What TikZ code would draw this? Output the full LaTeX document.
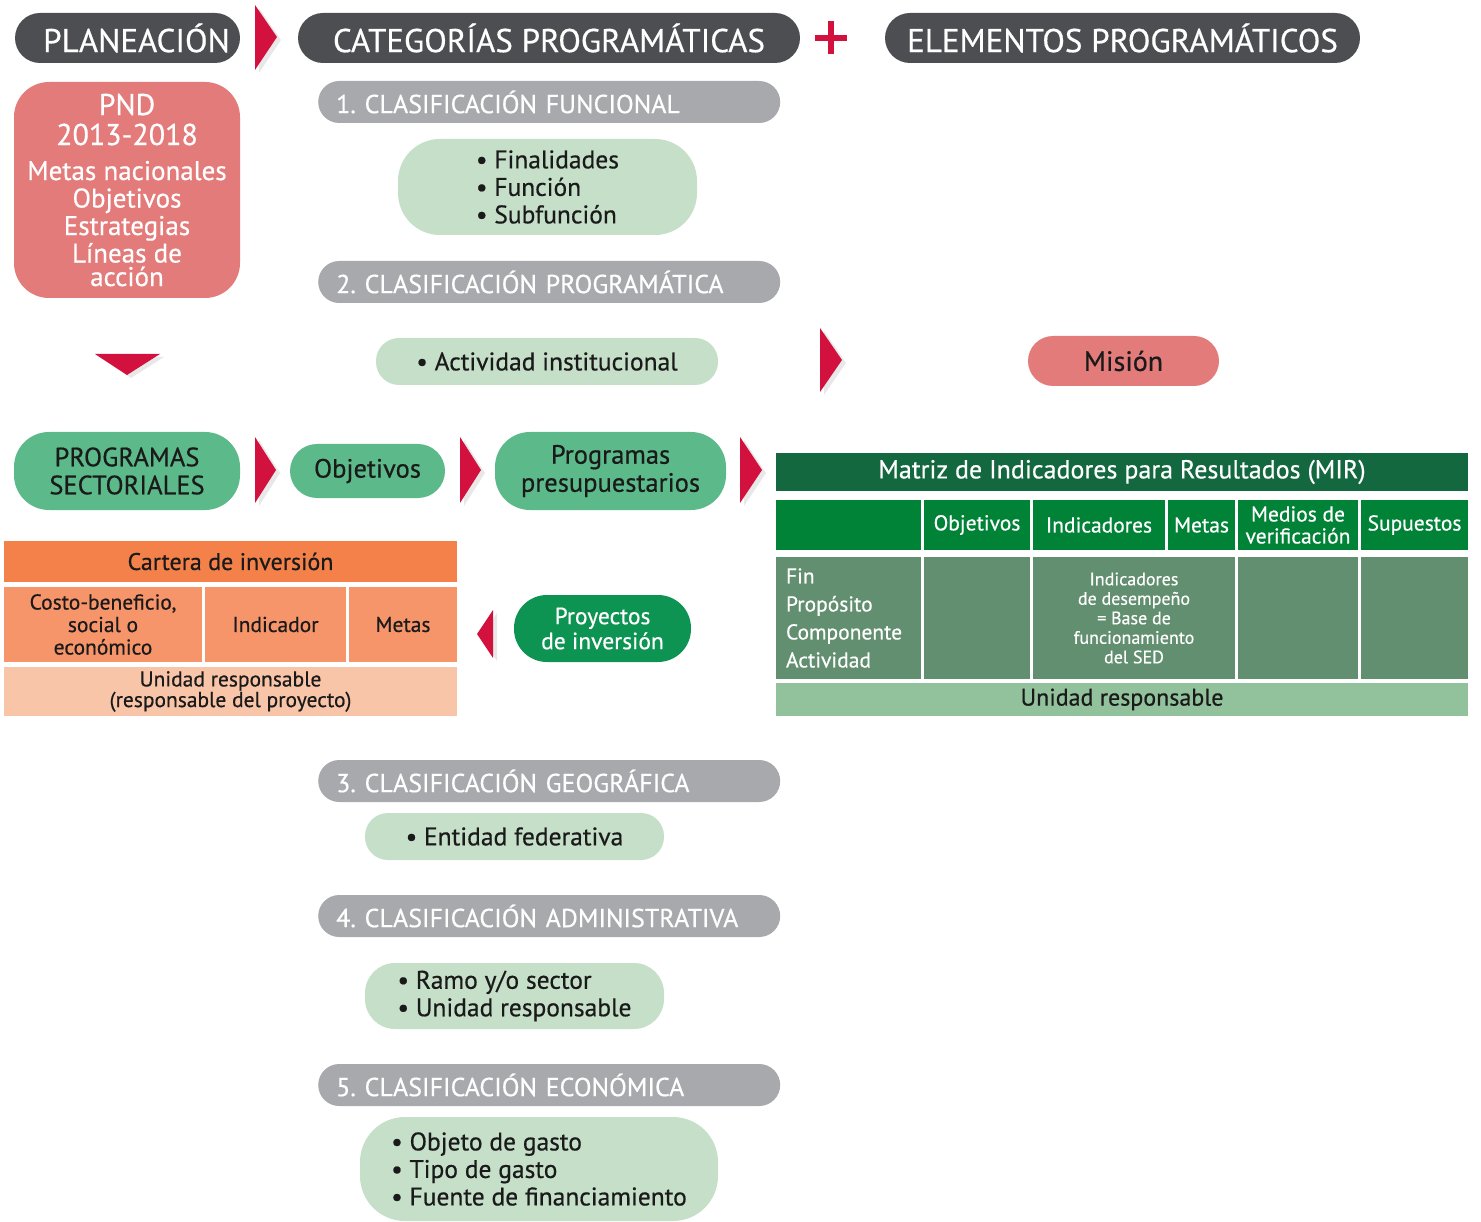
\documentclass[tikz,border=0pt]{standalone}
\usepackage{fontspec}
\setmainfont{PT Sans}[FakeBold=0.5]
\usetikzlibrary{shadows}

\definecolor{hdrgray}{HTML}{4D4E52}
\definecolor{clsgray}{HTML}{A7A9AC}
\definecolor{itemgreen}{HTML}{C5DFC8}
\definecolor{midgreen}{HTML}{5CB98A}
\definecolor{deepgreen}{HTML}{0E9452}
\definecolor{pinkred}{HTML}{E47B7B}
\definecolor{arrowred}{HTML}{D2113F}
\definecolor{mirtitle}{HTML}{13683F}
\definecolor{mirhead}{HTML}{008237}
\definecolor{mirbody}{HTML}{628F70}
\definecolor{mirfoot}{HTML}{92C29C}
\definecolor{cartitle}{HTML}{F38149}
\definecolor{carrow}{HTML}{F6946A}
\definecolor{carfoot}{HTML}{F9C5A8}
\definecolor{ink}{HTML}{1A1A1A}

\newcommand{\fs}[2]{\fontsize{#1}{#2}\selectfont}
\frenchspacing

\begin{document}
\begin{tikzpicture}[x=1pt,y=-1pt,
    tri/.style={fill=arrowred,drop shadow={shadow xshift=4pt,shadow yshift=-3pt,opacity=.18}},
    cell/.style={inner sep=0pt,align=center,text=ink}]

  \useasboundingbox (0,0) rectangle (1481,1222);

  % top headers
  \begin{scope}[every node/.style={fill=hdrgray,text=white,rounded corners=25pt,
      minimum height=50pt,inner sep=0pt,font=\fs{33}{35}}]
    \node[minimum width=225pt] (plan) at (127.5,38) {\hspace{18pt}PLANEACIÓN};
    \node[minimum width=502pt] (cat)  at (549,38)   {CATEGORÍAS PROGRAMÁTICAS};
    \node[minimum width=475pt] (elem) at (1122.5,38) {ELEMENTOS PROGRAMÁTICOS};
  \end{scope}
  \coordinate (plus) at (831,38);
  \draw[arrowred,line width=6pt] ([xshift=-16pt]plus) -- ([xshift=16pt]plus)
    ([yshift=-16.5pt]plus) -- ([yshift=16.5pt]plus);

  % classification bars
  \begin{scope}[every node/.style={fill=clsgray,text=white,rounded corners=21pt,
      minimum height=42pt,text width=426pt,inner xsep=18pt,inner ysep=0pt,
      align=left,anchor=west,font=\fs{26}{28}}]
    \node (c1) at (318,102)  {1. CLASIFICACIÓN FUNCIONAL};
    \node (c2) at (318,282)  {2. CLASIFICACIÓN PROGRAMÁTICA};
    \node (c3) at (318,781)  {3. CLASIFICACIÓN GEOGRÁFICA};
    \node (c4) at (318,916)  {4. CLASIFICACIÓN ADMINISTRATIVA};
    \node (c5) at (318,1085) {5. CLASIFICACIÓN ECONÓMICA};
  \end{scope}

  % items of each classification
  \begin{scope}[every node/.style={fill=itemgreen,text=ink,inner sep=0pt,
      align=left,font=\fs{25.5}{27.5}}]
    \node[minimum width=299pt,minimum height=96pt,rounded corners=42pt] (i1) at (547.5,187)
      {\textbullet\ Finalidades\\\textbullet\ Función\\\textbullet\ Subfunción};
    \node[minimum width=342pt,minimum height=47pt,rounded corners=23pt] (i2) at (547,361.5)
      {\textbullet\ Actividad institucional};
    \node[minimum width=299pt,minimum height=47pt,rounded corners=23pt] (i3) at (514.5,836.5)
      {\textbullet\ Entidad federativa};
    \node[minimum width=299pt,minimum height=66pt,rounded corners=30pt] (i4) at (514.5,996)
      {\textbullet\ Ramo y/o sector\\\textbullet\ Unidad responsable};
    \node[minimum width=358pt,minimum height=104pt,rounded corners=45pt] (i5) at (539,1169)
      {\textbullet\ Objeto de gasto\\\textbullet\ Tipo de gasto\\\textbullet\ Fuente de financiamiento};
  \end{scope}

  % planning side
  \node[fill=pinkred,text=white,rounded corners=35pt,minimum width=226pt,minimum height=216pt,
    inner sep=0pt,align=center,font=\fs{27}{27.5}] (pnd) at (127,190)
    {\fs{30}{27.5}PND\\[2.5pt]\fs{30}{27.5}2013-2018\\[7.5pt]\fs{27}{27.5}Metas nacionales\\Objetivos\\Estrategias\\Líneas de\\[-4pt]acción};
  \node[fill=pinkred,text=ink,rounded corners=25pt,minimum width=191pt,minimum height=50pt,
    inner sep=0pt,font=\fs{28}{30}] (mis) at (1123.5,361) {Misión};

  \begin{scope}[every node/.style={fill=midgreen,text=ink,inner sep=0pt,align=center,
      font=\fs{26.5}{28}}]
    \node[minimum width=226pt,minimum height=78pt,rounded corners=35pt] (ps) at (127,471)
      {PROGRAMAS\\SECTORIALES};
    \node[minimum width=155pt,minimum height=54pt,rounded corners=27pt] (ob) at (367.5,471)
      {Objetivos};
    \node[minimum width=231pt,minimum height=78pt,rounded corners=35pt] (pp) at (610.5,471)
      {Programas\\presupuestarios};
  \end{scope}
  \node[fill=deepgreen,text=white,minimum width=177pt,minimum height=67pt,rounded corners=33pt,
    inner sep=0pt,align=center,font=\fs{23.5}{25}] (pi) at (602.5,628.5) {Proyectos\\de inversión};

  % red arrows
  \fill[tri] (255,5) -- (277,37) -- (255,70) -- cycle;
  \fill[tri] (95,354) -- (160,354) -- (127,375) -- cycle;
  \fill[tri] (820,328) -- (842,360) -- (820,392) -- cycle;
  \fill[tri] (255,437) -- (276,470) -- (255,503) -- cycle;
  \fill[tri] (460,437) -- (481,470) -- (460,503) -- cycle;
  \fill[tri] (740,437) -- (762,470) -- (740,503) -- cycle;
  \fill[tri] (493,610) -- (477,634) -- (493,658) -- cycle;

  % MIR table
  \begin{scope}[every node/.style={cell}]
    \node[fill=mirtitle,text=white,minimum width=692pt,minimum height=38pt,font=\fs{26}{28}]
      (mir) at (1122,472) {Matriz de Indicadores para Resultados (MIR)};
    \begin{scope}[every node/.style={cell,fill=mirhead,text=white,minimum height=50pt,font=\fs{21.5}{22}}]
      \node[minimum width=145pt] (h0) at (848.5,525)  {};
      \node[minimum width=106pt] (h1) at (977,525)    {Objetivos};
      \node[minimum width=132pt] (h2) at (1099,525)   {Indicadores};
      \node[minimum width=67pt]  (h3) at (1201.5,525) {Metas};
      \node[minimum width=120pt] (h4) at (1298,525)   {Medios de\\verificación};
      \node[minimum width=107pt] (h5) at (1414.5,525) {Supuestos};
    \end{scope}
    \begin{scope}[every node/.style={cell,fill=mirbody,text=white,minimum height=122pt}]
      \node[text width=125pt,inner xsep=10pt,align=left,font=\fs{21.5}{28}] (b0) at (848.5,618)
        {Fin\\Propósito\\Componente\\Actividad};
      \node[minimum width=106pt] (b1) at (977,618) {};
      \node[minimum width=202pt,font=\fs{18}{19.5}] (b2) at (1134,618)
        {Indicadores\\de desempeño\\= Base de\\funcionamiento\\del SED};
      \node[minimum width=120pt] (b4) at (1298,618) {};
      \node[minimum width=107pt] (b5) at (1414.5,618) {};
    \end{scope}
    \node[fill=mirfoot,minimum width=692pt,minimum height=33pt,font=\fs{24}{26}]
      (mirur) at (1122,699.5) {Unidad responsable};
  \end{scope}

  % investment portfolio
  \begin{scope}[every node/.style={cell}]
    \node[fill=cartitle,minimum width=453pt,minimum height=41pt,font=\fs{24}{26}]
      (car) at (230.5,561.5) {Cartera de inversión};
    \begin{scope}[every node/.style={cell,fill=carrow,minimum height=75pt,font=\fs{21.5}{22.5}}]
      \node[minimum width=198pt] (k0) at (103,624.5)   {Costo-beneficio,\\social o\\económico};
      \node[minimum width=141pt] (k1) at (275.5,624.5) {Indicador};
      \node[minimum width=108pt] (k2) at (403,624.5)   {Metas};
    \end{scope}
    \node[fill=carfoot,minimum width=453pt,minimum height=49pt,font=\fs{21.5}{19}]
      (carur) at (230.5,691.5) {Unidad responsable\\(responsable del proyecto)};
  \end{scope}

\end{tikzpicture}
\end{document}
